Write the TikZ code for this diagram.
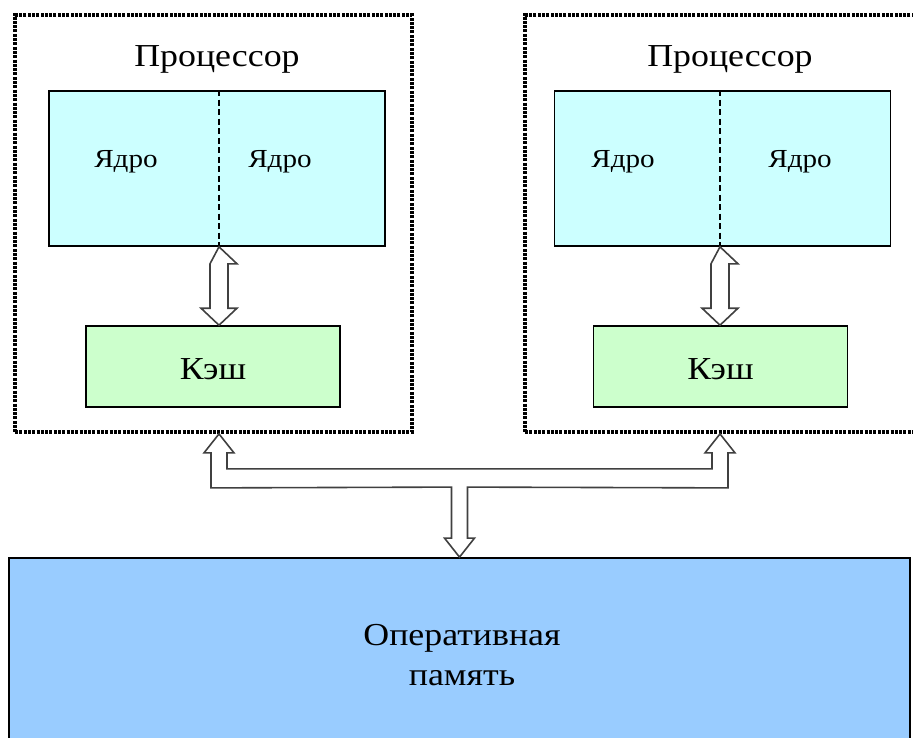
\documentclass[tikz,border=0pt]{standalone}
\usepackage{fontspec}
\setmainfont{Liberation Serif}[FakeStretch=1.12]
\usetikzlibrary{calc}

\definecolor{corecol}{HTML}{CCFFFF}
\definecolor{cachecol}{HTML}{CCFFCC}
\definecolor{memcol}{HTML}{99CCFF}

\begin{document}
\begin{tikzpicture}[
        x=1pt, y=-1pt,
        procbox/.style={draw, rectangle, line width=3.8pt, dash pattern=on 3pt off 1.3pt},
        corebox/.style={draw, rectangle, line width=1.6pt, fill=corecol, minimum width=336pt, minimum height=155pt},
        cachebox/.style={draw, rectangle, line width=1.6pt, fill=cachecol, minimum width=254pt, minimum height=81pt},
        membox/.style={draw, rectangle, line width=1.8pt, fill=memcol, minimum width=901pt, minimum height=220pt},
        title/.style={anchor=base, font=\fontsize{32}{38}\selectfont},
        core/.style={anchor=base, font=\fontsize{26}{31}\selectfont},
        label/.style={anchor=base, font=\fontsize{32}{38}\selectfont},
        divider/.style={line width=2.6pt, dash pattern=on 6pt off 3.5pt},
        hollow/.style={draw=black!75, line width=1.6pt, fill=white, line join=miter}
    ]
    \useasboundingbox (0,0) rectangle (913,738);

    % Processors
    \node[procbox, minimum width=397pt, minimum height=417pt] (proc1) at (213.5,223.5) {};
    \node[procbox, minimum width=397pt, minimum height=417pt] (proc2) at (723.5,223.5) {};
    \node[title] (name1) at (217,67) {Процессор};
    \node[title] (name2) at (730,67) {Процессор};

    % Cores
    \node[corebox] (cores1) at (217,168.5) {};
    \node[corebox] (cores2) at (722.5,168.5) {};
    \coordinate (mid1) at (219,168.5);
    \coordinate (mid2) at (720,168.5);
    \draw[divider] (mid1 |- cores1.north) -- (mid1 |- cores1.south);
    \draw[divider] (mid2 |- cores2.north) -- (mid2 |- cores2.south);
    \node[core] (core11) at (126,168) {Ядро};
    \node[core] (core12) at (280,168) {Ядро};
    \node[core] (core21) at (623,168) {Ядро};
    \node[core] (core22) at (800,168) {Ядро};

    % Caches
    \node[cachebox] (cache1) at (213,366.5) {};
    \node[cachebox] (cache2) at (720.5,366.5) {};
    \node[label] (kesh1) at (213,379) {Кэш};
    \node[label] (kesh2) at (720.5,379) {Кэш};

    % Memory
    \node[membox] (mem) at (459.5,668) {};
    \node[label, anchor=center, align=center] (memtext) at (462,655) {Оперативная\\[2pt]память};

    % Core <-> cache arrows
    \foreach \i in {1,2} {
        \draw[hollow] (mid\i |- cores\i.south) -- ++(18,17) -- ++(-9,0)
            -- ($(mid\i |- cache\i.north)+(9,-17)$) -- ++(9,0)
            -- (mid\i |- cache\i.north) -- ++(-18,-17) -- ++(9,0)
            -- ($(mid\i |- cores\i.south)+(-9,17)$) -- cycle;
    }

    % Bus to memory
    \coordinate (tipL) at (mid1 |- proc1.south);
    \coordinate (tipR) at (mid2 |- proc2.south);
    \draw[hollow] (tipL) -- ++(15,19) -- ++(-7,0) -- ++(0,16)
        -- ($(tipR)+(-8,35)$) -- ++(0,-16) -- ++(-7,0)
        -- (tipR) -- ++(15,19) -- ++(-7,0) -- ++(0,35)
        -- ($(mem.north)+(8,-70)$) -- ++(0,51) -- ++(7,0)
        -- (mem.north) -- ++(-15,-19) -- ++(7,0) -- ++(0,-51)
        -- ($(tipL)+(-8,54)$) -- ++(0,-35) -- ++(-7,0) -- cycle;
\end{tikzpicture}
\end{document}
